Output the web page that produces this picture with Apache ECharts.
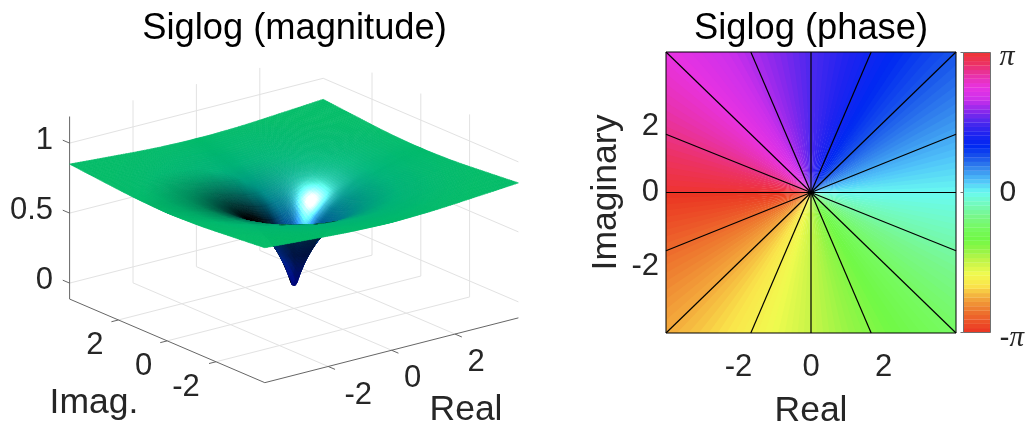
<!DOCTYPE html>
<html><head><meta charset="utf-8">
<style>html,body{margin:0;padding:0;background:#fff}#c{width:1028px;height:423px}</style>
<script src="https://cdn.jsdelivr.net/npm/echarts@6/dist/echarts.min.js"></script>
</head><body><div id="c"></div>
<script>
// ---------- data ----------
const gridCoords = [-4,-3.3,-2.6,-2,-1.5,-1.15,-.85,-.6,-.4,-.25,-.14,-.06,0,.06,.14,.25,.4,.6,.85,1.15,1.5,2,2.6,3.3,4];
const magnitude = [
[.850,.838,.827,.817,.810,.806,.804,.802,.801,.800,.800,.800,.800,.800,.800,.800,.801,.802,.804,.806,.810,.817,.827,.838,.850],
[.838,.824,.808,.794,.784,.778,.773,.770,.769,.768,.768,.767,.767,.767,.768,.768,.769,.770,.773,.778,.784,.794,.808,.824,.838],
[.827,.808,.786,.766,.750,.740,.732,.727,.725,.723,.723,.722,.722,.722,.723,.723,.725,.727,.732,.740,.750,.766,.786,.808,.827],
[.817,.794,.766,.739,.714,.698,.685,.676,.671,.668,.667,.667,.667,.667,.667,.668,.671,.676,.685,.698,.714,.739,.766,.794,.817],
[.810,.784,.750,.714,.680,.654,.633,.618,.608,.603,.601,.600,.600,.600,.601,.603,.608,.618,.633,.654,.680,.714,.750,.784,.810],
[.806,.778,.740,.698,.654,.619,.588,.565,.549,.541,.537,.535,.535,.535,.537,.541,.549,.565,.588,.619,.654,.698,.740,.778,.806],
[.804,.773,.732,.685,.633,.588,.546,.510,.484,.470,.463,.460,.459,.460,.463,.470,.484,.510,.546,.588,.633,.685,.732,.773,.804],
[.802,.770,.727,.676,.618,.565,.510,.459,.419,.394,.381,.376,.375,.376,.381,.394,.419,.459,.510,.565,.618,.676,.727,.770,.802],
[.801,.769,.725,.671,.608,.549,.484,.419,.361,.320,.298,.288,.286,.288,.298,.320,.361,.419,.484,.549,.608,.671,.725,.769,.801],
[.800,.768,.723,.668,.603,.541,.470,.394,.320,.261,.223,.205,.200,.205,.223,.261,.320,.394,.470,.541,.603,.668,.723,.768,.800],
[.800,.768,.723,.667,.601,.537,.463,.381,.298,.223,.165,.132,.123,.132,.165,.223,.298,.381,.463,.537,.601,.667,.723,.768,.800],
[.800,.767,.722,.667,.600,.535,.460,.376,.288,.205,.132,.078,.057,.078,.132,.205,.288,.376,.460,.535,.600,.667,.722,.767,.800],
[.800,.767,.722,.667,.600,.535,.459,.375,.286,.200,.123,.057,.050,.057,.123,.200,.286,.375,.459,.535,.600,.667,.722,.767,.800],
[.800,.767,.722,.667,.600,.535,.460,.376,.288,.205,.132,.078,.057,.078,.132,.205,.288,.376,.460,.535,.600,.667,.722,.767,.800],
[.800,.768,.723,.667,.601,.537,.463,.381,.298,.223,.165,.132,.123,.132,.165,.223,.298,.381,.463,.537,.601,.667,.723,.768,.800],
[.800,.768,.723,.668,.603,.541,.470,.394,.320,.261,.223,.205,.200,.205,.223,.261,.320,.394,.470,.541,.603,.668,.723,.768,.800],
[.801,.769,.725,.671,.608,.549,.484,.419,.361,.320,.298,.288,.286,.288,.298,.320,.361,.419,.484,.549,.608,.671,.725,.769,.801],
[.802,.770,.727,.676,.618,.565,.510,.459,.419,.394,.381,.376,.375,.376,.381,.394,.419,.459,.510,.565,.618,.676,.727,.770,.802],
[.804,.773,.732,.685,.633,.588,.546,.510,.484,.470,.463,.460,.459,.460,.463,.470,.484,.510,.546,.588,.633,.685,.732,.773,.804],
[.806,.778,.740,.698,.654,.619,.588,.565,.549,.541,.537,.535,.535,.535,.537,.541,.549,.565,.588,.619,.654,.698,.740,.778,.806],
[.810,.784,.750,.714,.680,.654,.633,.618,.608,.603,.601,.600,.600,.600,.601,.603,.608,.618,.633,.654,.680,.714,.750,.784,.810],
[.817,.794,.766,.739,.714,.698,.685,.676,.671,.668,.667,.667,.667,.667,.667,.668,.671,.676,.685,.698,.714,.739,.766,.794,.817],
[.827,.808,.786,.766,.750,.740,.732,.727,.725,.723,.723,.722,.722,.722,.723,.723,.725,.727,.732,.740,.750,.766,.786,.808,.827],
[.838,.824,.808,.794,.784,.778,.773,.770,.769,.768,.768,.767,.767,.767,.768,.768,.769,.770,.773,.778,.784,.794,.808,.824,.838],
[.850,.838,.827,.817,.810,.806,.804,.802,.801,.800,.800,.800,.800,.800,.800,.800,.801,.802,.804,.806,.810,.817,.827,.838,.850]
];
const realTicks = [-2,0,2];
const imagTicks = [2,0,-2];
const magTicks = [0,0.5,1];
const magTickLabels = ['0','0.5','1'];
const phaseTicks = [-180,0,180];
// phase levels of the colour bar (degrees, band centres)
const phaseLevels = [-177.2,-171.6,-166,-160.3,-154.7,-149.1,-143.4,-137.8,-132.2,-126.6,-120.9,-115.3,-109.7,-104.1,-98.4,-92.8,
-87.2,-81.6,-75.9,-70.3,-64.7,-59.1,-53.4,-47.8,-42.2,-36.6,-30.9,-25.3,-19.7,-14.1,-8.4,-2.8,
2.8,8.4,14.1,19.7,25.3,30.9,36.6,42.2,47.8,53.4,59.1,64.7,70.3,75.9,81.6,87.2,
92.8,98.4,104.1,109.7,115.3,120.9,126.6,132.2,137.8,143.4,149.1,154.7,160.3,166,171.6,177.2];
// phase of the field sectors in the square panel (degrees, sector centres)
const fieldPhases = [-178.75,-176.25,-173.75,-171.25,-168.75,-166.25,-163.75,-161.25,-158.75,-156.25,-153.75,-151.25,
-148.75,-146.25,-143.75,-141.25,-138.75,-136.25,-133.75,-131.25,-128.75,-126.25,-123.75,-121.25,
-118.75,-116.25,-113.75,-111.25,-108.75,-106.25,-103.75,-101.25,-98.75,-96.25,-93.75,-91.25,
-88.75,-86.25,-83.75,-81.25,-78.75,-76.25,-73.75,-71.25,-68.75,-66.25,-63.75,-61.25,
-58.75,-56.25,-53.75,-51.25,-48.75,-46.25,-43.75,-41.25,-38.75,-36.25,-33.75,-31.25,
-28.75,-26.25,-23.75,-21.25,-18.75,-16.25,-13.75,-11.25,-8.75,-6.25,-3.75,-1.25,
1.25,3.75,6.25,8.75,11.25,13.75,16.25,18.75,21.25,23.75,26.25,28.75,
31.25,33.75,36.25,38.75,41.25,43.75,46.25,48.75,51.25,53.75,56.25,58.75,
61.25,63.75,66.25,68.75,71.25,73.75,76.25,78.75,81.25,83.75,86.25,88.75,
91.25,93.75,96.25,98.75,101.25,103.75,106.25,108.75,111.25,113.75,116.25,118.75,
121.25,123.75,126.25,128.75,131.25,133.75,136.25,138.75,141.25,143.75,146.25,148.75,
151.25,153.75,156.25,158.75,161.25,163.75,166.25,168.75,171.25,173.75,176.25,178.75];
// ends of the iso-phase spokes on the plot border
const spokeEnds = [[4,0],[4,1.66],[4,4],[1.66,4],[0,4],[-1.66,4],[-4,4],[-4,1.66],[-4,0],[-4,-1.66],[-4,-4],[-1.66,-4],[0,-4],[1.66,-4],[4,-4],[4,-1.66]];
const phaseColors = ['#eb3223','#ec5528','#ee7d30','#f3aa3c','#fae44b','#f0fa4f','#c8f548','#96f546','#70f946','#76fa62','#78f78c','#73fabe','#69faf0','#50c3fa','#378cee','#1955eb','#0028f2','#1e23f0','#4b28ee','#8c28ec','#cd30eb','#e832e1','#e832aa','#ec3264','#ee3432'];

// ---------- view / style ----------
const FONT = '"Liberation Sans", Arial, sans-serif';
const TXT = '#262626';
const LIM = 4, ZMIN = -0.114, ZMAX = 1.19;
const CX = 294, CY = 292.5;
const project = (x,y,z) => [CX + 31.7*x - 24.4*y, CY - 8.1*x - 10.45*y - 140*z];
const K = 3.78;                                   // z stretch of the plot box
const VIEW = [-.576,-.749,.331];
const L1 = [-.78,.2,.593];
const NH = [-.51,-.32,.80];
const NH2 = [-.66,-.41,.63];
const baseStops = [[0,0,0,130],[.15,0,20,140],[.35,0,55,155],[.55,0,125,140],[.72,0,178,118],[.82,4,188,104],[1,5,190,100]];
function baseColor(z){
  for(let i=1;i<baseStops.length;i++){ if(z<=baseStops[i][0]){
    const a=baseStops[i-1],b=baseStops[i],t=(z-a[0])/(b[0]-a[0]);
    return [a[1]+(b[1]-a[1])*t,a[2]+(b[2]-a[2])*t,a[3]+(b[3]-a[3])*t]; } }
  return baseStops[baseStops.length-1].slice(1);
}
const N = gridCoords.length;
const clampI = i=>Math.max(0,Math.min(N-1,i));
const normals = magnitude.map((row,j)=>row.map((z,i)=>{
  const i0=clampI(i-1),i1=clampI(i+1),j0=clampI(j-1),j1=clampI(j+1);
  const zx=(row[i1]-row[i0])/(gridCoords[i1]-gridCoords[i0]);
  const zy=(magnitude[j1][i]-magnitude[j0][i])/(gridCoords[j1]-gridCoords[j0]);
  return [-K*zx,-K*zy,1];
}));
// smooth (cubic) blending of the vertex normals across a quad, for shading only
function hermite(f0,f1,m0,m1,dx,t){
  const t2=t*t,t3=t2*t;
  return (2*t3-3*t2+1)*f0+(t3-2*t2+t)*dx*m0+(-2*t3+3*t2)*f1+(t3-t2)*dx*m1;
}
function normAlongX(j,i,u,k){
  const i0=clampI(i-1),i2=clampI(i+2);
  const m0=(normals[j][i+1][k]-normals[j][i0][k])/(gridCoords[i+1]-gridCoords[i0]);
  const m1=(normals[j][i2][k]-normals[j][i][k])/(gridCoords[i2]-gridCoords[i]);
  return hermite(normals[j][i][k],normals[j][i+1][k],m0,m1,gridCoords[i+1]-gridCoords[i],u);
}
function smoothNormal(i,j,u,v){
  return [0,1,2].map(k=>{
    const j0=clampI(j-1),j2=clampI(j+2);
    const f0=normAlongX(j,i,u,k),f1=normAlongX(j+1,i,u,k);
    const m0=(f1-normAlongX(j0,i,u,k))/(gridCoords[j+1]-gridCoords[j0]);
    const m1=(normAlongX(j2,i,u,k)-f0)/(gridCoords[j2]-gridCoords[j]);
    return hermite(f0,f1,m0,m1,gridCoords[j+1]-gridCoords[j],v);
  });
}
function shade(n,z){
  const l=Math.hypot(n[0],n[1],n[2])||1; let a=n[0]/l,b=n[1]/l,c=n[2]/l;
  const vd=a*VIEW[0]+b*VIEW[1]+c*VIEW[2];
  if(vd<0){a=-a;b=-b;c=-c;}
  const dot=a*L1[0]+b*L1[1]+c*L1[2];
  const tip=Math.max(0,1-z/.3);
  const d=vd<0?Math.min(1,.42+.6*tip+Math.max(0,dot)*.9):Math.min(1,Math.max(0,(dot+.01)/.47));
  const ang=1-(a*NH[0]+b*NH[1]+c*NH[2]);
  const ang2=1-(a*NH2[0]+b*NH2[1]+c*NH2[2]);
  const sp=vd<0?0:Math.exp(-ang/.008)*.75+Math.exp(-ang/.03)*.4;
  const sp2=vd<0?0:Math.exp(-ang2/.02)*.6;
  const col=baseColor(z);
  const spec=[225,255,255],spec2=[60,150,255];
  const r=col.map((v,q)=>Math.min(255,Math.round(v*d+spec[q]*sp+spec2[q]*sp2)));
  return 'rgb('+r[0]+','+r[1]+','+r[2]+')';
}
// quads, far to near
const quads=[];
for(let j=0;j<N-1;j++)for(let i=0;i<N-1;i++){
  const x=(gridCoords[i]+gridCoords[i+1])/2,y=(gridCoords[j]+gridCoords[j+1])/2;
  const z=(magnitude[j][i]+magnitude[j][i+1]+magnitude[j+1][i]+magnitude[j+1][i+1])/4;
  quads.push([i,j,VIEW[0]*39.2*x+VIEW[1]*39.2*y+VIEW[2]*148*z]);
}
quads.sort((a,b)=>a[2]-b[2]);
function renderQuad(p,api){
  const i=api.value(0),j=api.value(1);
  const X0=gridCoords[i],X1=gridCoords[i+1],Y0=gridCoords[j],Y1=gridCoords[j+1];
  const Z=[magnitude[j][i],magnitude[j][i+1],magnitude[j+1][i],magnitude[j+1][i+1]];
  const size=Math.max(Math.abs(X1-X0),Math.abs(Y1-Y0))*38;
  const sub=Math.max(1,Math.min(8,Math.ceil(size/2.5)));
  const bil=(a,u,v)=>a[0]*(1-u)*(1-v)+a[1]*u*(1-v)+a[2]*(1-u)*v+a[3]*u*v;
  const pt=(u,v)=>api.coord(project(X0+(X1-X0)*u,Y0+(Y1-Y0)*v,bil(Z,u,v)));
  const children=[];
  for(let b=0;b<sub;b++)for(let a=0;a<sub;a++){
    const u0=a/sub,u1=(a+1)/sub,v0=b/sub,v1=(b+1)/sub,um=(u0+u1)/2,vm=(v0+v1)/2;
    const c=shade(smoothNormal(i,j,um,vm),bil(Z,um,vm));
    children.push({type:'polygon',shape:{points:[pt(u0,v0),pt(u1,v0),pt(u1,v1),pt(u0,v1)]},style:{fill:c,stroke:c,lineWidth:.6}});
  }
  return {type:'group',children};
}
// 3-D box segments
const gridSegs=[],axisSegs=[];
realTicks.forEach(t=>{gridSegs.push([t,-LIM,ZMIN,t,LIM,ZMIN],[t,LIM,ZMIN,t,LIM,ZMAX]);axisSegs.push([t,-LIM,ZMIN,t,-LIM-.28,ZMIN]);});
imagTicks.forEach(t=>{gridSegs.push([-LIM,t,ZMIN,LIM,t,ZMIN],[LIM,t,ZMIN,LIM,t,ZMAX]);axisSegs.push([-LIM,t,ZMIN,-LIM-.22,t,ZMIN]);});
magTicks.forEach(t=>{gridSegs.push([-LIM,LIM,t,LIM,LIM,t],[LIM,LIM,t,LIM,-LIM,t]);axisSegs.push([-LIM,LIM,t,-LIM,LIM+.28,t]);});
axisSegs.push([-LIM,LIM,ZMIN,-LIM,LIM,ZMAX],[-LIM,LIM,ZMIN,-LIM,-LIM,ZMIN],[-LIM,-LIM,ZMIN,LIM,-LIM,ZMIN]);
const segRender=color=>(p,api)=>({type:'line',shape:{
    x1:api.coord(project(api.value(0),api.value(1),api.value(2)))[0],
    y1:api.coord(project(api.value(0),api.value(1),api.value(2)))[1],
    x2:api.coord(project(api.value(3),api.value(4),api.value(5)))[0],
    y2:api.coord(project(api.value(3),api.value(4),api.value(5)))[1]},
  style:{stroke:color,lineWidth:1,fill:null}});
// 3-D tick labels
const labels3d=[];
realTicks.forEach(t=>{const a=project(t,-LIM,ZMIN);labels3d.push({text:String(t),x:a[0]+(t<0?30:21),y:a[1]+28.5,align:'center'});});
imagTicks.forEach(t=>{const a=project(-LIM,t,ZMIN);labels3d.push({text:String(t),x:a[0]-(t<0?30:23.5),y:a[1]+25.5,align:'center'});});
magTicks.forEach((t,k)=>{const a=project(-LIM,LIM,t);labels3d.push({text:magTickLabels[k],x:53,y:a[1]-2.5,align:'right'});});
labels3d.push({text:'Imag.',x:94,y:403,align:'center',size:35.5},{text:'Real',x:466,y:410,align:'center',size:35.5});

const hiddenX={gridIndex:0,type:'value',min:0,max:1028,show:false};
const hiddenY={gridIndex:0,type:'value',min:0,max:423,inverse:true,show:false};
const axisLab={color:TXT,fontFamily:FONT,fontSize:31};
const nameSt={color:TXT,fontFamily:FONT,fontSize:35.5};
const h=1.5;
const wedge=(p,api)=>{
  const a=(api.value(0)-h)*Math.PI/180,b=(api.value(0)+h)*Math.PI/180;
  return {type:'polygon',shape:{points:[api.coord([0,0]),api.coord([8*Math.cos(a),8*Math.sin(a)]),api.coord([8*Math.cos(b),8*Math.sin(b)])]},style:{fill:api.visual('color')}};
};
const option={
  animation:false,backgroundColor:'#fff',
  title:[
    {text:'Siglog (magnitude)',left:289.5,top:6,textAlign:'center',textStyle:{fontFamily:FONT,fontSize:36.3,fontWeight:'normal',color:'#000'}},
    {text:'Siglog (phase)',left:806,top:6,textAlign:'center',textStyle:{fontFamily:FONT,fontSize:36.3,fontWeight:'normal',color:'#000'}}
  ],
  grid:[
    {left:0,top:0,width:1028,height:423,show:false,outerBoundsMode:'none'},
    {left:666,top:52,width:290,height:281,show:true,z:10,borderColor:'#000',borderWidth:1,backgroundColor:'transparent',outerBoundsMode:'none'},
    {left:963.5,top:52.5,width:27,height:280,show:true,z:10,borderColor:'#707070',borderWidth:1,backgroundColor:'transparent',outerBoundsMode:'none'}
  ],
  xAxis:[hiddenX,
    {gridIndex:1,type:'value',min:-4,max:4,interval:2,splitLine:{show:false},axisTick:{show:false},axisLine:{show:false},
     axisLabel:Object.assign({margin:19,formatter:v=>Math.abs(v)===4?'':String(v)},axisLab),
     name:'Real',nameLocation:'middle',nameGap:60,nameTextStyle:nameSt},
    {gridIndex:2,type:'value',min:0,max:1,show:false}],
  yAxis:[hiddenY,
    {gridIndex:1,type:'value',min:-4,max:4,interval:2,splitLine:{show:false},axisTick:{show:false},axisLine:{show:false},
     axisLabel:Object.assign({margin:7,formatter:v=>Math.abs(v)===4?'':(v===0?'0':'{a|'+v+'}'),
        rich:{a:{fontFamily:FONT,fontSize:31,color:TXT,padding:[8,0,0,0]}}},axisLab),
     name:'Imaginary',nameLocation:'middle',nameGap:42,nameTextStyle:nameSt},
    {gridIndex:2,type:'value',min:-180,max:180,interval:180,position:'right',splitLine:{show:false},
     axisLine:{show:false},axisTick:{show:true,inside:true,length:3,lineStyle:{color:'#707070'}},
     axisLabel:{margin:9,color:TXT,fontFamily:FONT,fontSize:30,
       formatter:v=>v===phaseTicks[2]?'{p|π}':v===phaseTicks[0]?'{m|-}{q|π}':'0',
       rich:{p:{fontFamily:'"Liberation Serif"',fontStyle:'italic',fontSize:30,color:TXT,padding:[10,0,0,0]},
             q:{fontFamily:'"Liberation Serif"',fontStyle:'italic',fontSize:29,color:TXT,padding:[12,0,0,0]},
             m:{fontFamily:FONT,fontSize:30,color:TXT,padding:[12,0,0,0]}}}}],
  visualMap:{show:false,type:'continuous',min:-180,max:180,dimension:0,seriesIndex:[0,1],inRange:{color:phaseColors}},
  series:[
    {type:'custom',xAxisIndex:1,yAxisIndex:1,clip:true,silent:true,renderItem:wedge,data:fieldPhases.map(v=>[v,0]),z:2},
    {type:'custom',xAxisIndex:2,yAxisIndex:2,silent:true,data:phaseLevels.map(v=>[v,0]),z:2,
      renderItem:(p,api)=>{const a=api.coord([0,api.value(0)-2.95]),b=api.coord([1,api.value(0)+2.95]);
        return {type:'rect',shape:{x:a[0],y:b[1],width:b[0]-a[0],height:a[1]-b[1]},style:{fill:api.visual('color')}};}},
    ...spokeEnds.map(e=>({type:'line',xAxisIndex:1,yAxisIndex:1,silent:true,symbol:'none',z:5,clip:true,
      lineStyle:{color:'#000',width:1.2},data:[[0,0],e]})),
    {type:'custom',xAxisIndex:0,yAxisIndex:0,silent:true,z:1,renderItem:segRender('#e2e2e2'),data:gridSegs},
    {type:'custom',xAxisIndex:0,yAxisIndex:0,silent:true,z:2,renderItem:segRender('#666666'),data:axisSegs},
    {type:'custom',xAxisIndex:0,yAxisIndex:0,silent:true,z:3,progressive:0,renderItem:renderQuad,data:quads},
    {type:'custom',xAxisIndex:0,yAxisIndex:0,silent:true,z:4,data:labels3d.map((l,i)=>[i]),
      renderItem:(p,api)=>{const l=labels3d[api.value(0)],c=api.coord([l.x,l.y]);
        return {type:'text',style:{text:l.text,x:c[0],y:c[1],align:l.align,verticalAlign:'middle',fill:TXT,font:(l.size||31)+'px '+FONT}};}}
  ]
};
echarts.init(document.getElementById('c'),null,{renderer:'canvas'}).setOption(option);
</script></body></html>
